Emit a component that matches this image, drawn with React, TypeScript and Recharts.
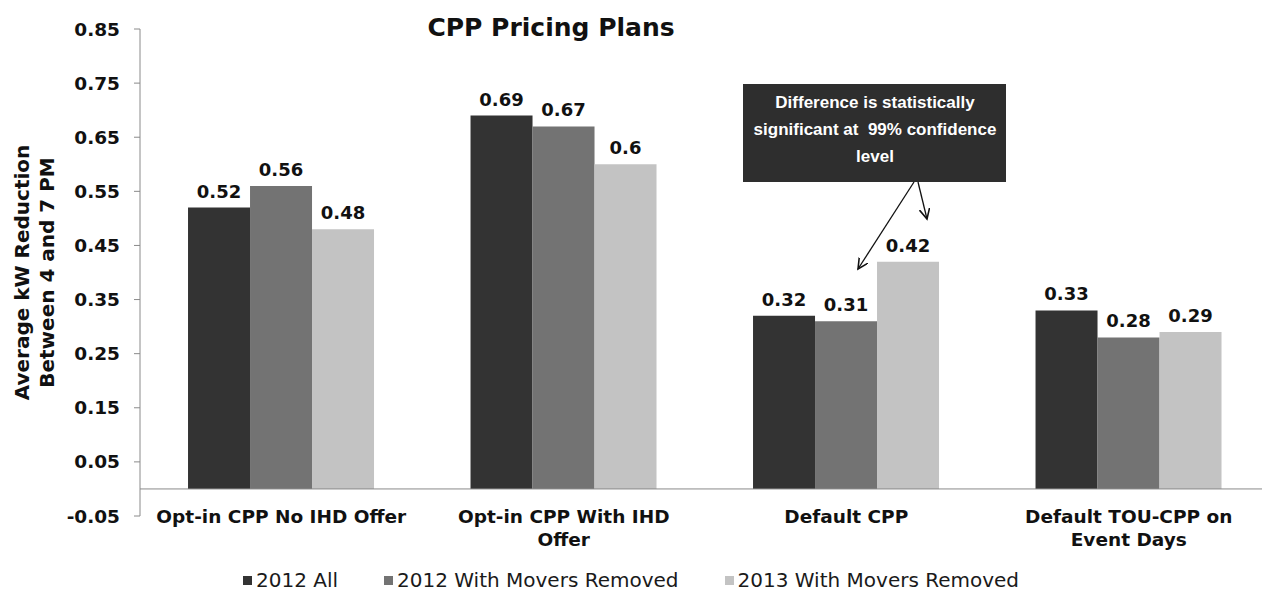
import React from 'react';
import {
  BarChart,
  Bar,
  XAxis,
  YAxis,
  Legend,
  LabelList,
  ReferenceLine,
  Customized,
} from 'recharts';

// 图表数据
const categories = [
  'Opt-in CPP No IHD Offer',
  'Opt-in CPP With IHD Offer',
  'Default CPP',
  'Default TOU-CPP on Event Days',
];
const categoryLines = [
  ['Opt-in CPP No IHD Offer'],
  ['Opt-in CPP With IHD', 'Offer'],
  ['Default CPP'],
  ['Default TOU-CPP on', 'Event Days'],
];
const all2012 = [0.52, 0.69, 0.32, 0.33];
const movers2012 = [0.56, 0.67, 0.31, 0.28];
const movers2013 = [0.48, 0.6, 0.42, 0.29];
const seriesNames = ['2012 All', '2012 With Movers Removed', '2013 With Movers Removed'];
const yTicks = [-0.05, 0.05, 0.15, 0.25, 0.35, 0.45, 0.55, 0.65, 0.75, 0.85];

const colors = ['#333333', '#737373', '#c3c3c3'];
const font = "'DejaVu Sans', 'Liberation Sans', Arial, sans-serif";
const arial = "'Liberation Sans', Arial, sans-serif";

const data = categories.map((name, i) => ({
  name,
  a: all2012[i],
  b: movers2012[i],
  c: movers2013[i],
}));

// 分类标签（多行）
const CategoryTick = ({ x, y, index }: any) => {
  const lines = categoryLines[index] || [];
  return (
    <text
      x={x}
      y={y + 7}
      textAnchor="middle"
      fontFamily={font}
      fontWeight="bold"
      fontSize={18.5}
      fill="#111"
    >
      {lines.map((l, i) => (
        <tspan key={i} x={x} dy={i === 0 ? 0 : 23}>
          {l}
        </tspan>
      ))}
    </text>
  );
};

// Y 轴标题（两行）
const YLabel = ({ viewBox }: any) => {
  const cy = viewBox.y + viewBox.height / 2;
  return (
    <g fontFamily={font} fontWeight="bold" fontSize={20} fill="#111">
      <text x={0} y={0} textAnchor="middle" transform={`translate(29, ${cy}) rotate(-90)`}>
        Average kW Reduction
      </text>
      <text x={0} y={0} textAnchor="middle" transform={`translate(54, ${cy}) rotate(-90)`}>
        Between 4 and 7 PM
      </text>
    </g>
  );
};

const renderLegend = (props: any) => {
  const { payload } = props;
  return (
    <div
      style={{
        display: 'flex',
        justifyContent: 'center',
        alignItems: 'center',
        height: 26,
        fontFamily: font,
        fontSize: 20,
        color: '#1a1a1a',
        paddingRight: 8,
      }}
    >
      {payload.map((entry: any, i: number) => (
        <span
          key={i}
          style={{
            display: 'inline-flex',
            alignItems: 'center',
            marginRight: i < payload.length - 1 ? 46 : 0,
          }}
        >
          <span
            style={{
              display: 'inline-block',
              width: 9,
              height: 9,
              background: entry.color,
              marginRight: 4,
            }}
          />
          {entry.value}
        </span>
      ))}
    </div>
  );
};

const Title = () => (
  <text
    x={551}
    y={36}
    textAnchor="middle"
    fontFamily={font}
    fontWeight="bold"
    fontSize={25}
    fill="#111"
  >
    CPP Pricing Plans
  </text>
);

// 注释框与箭头
const Annotation = () => (
  <g>
    <defs>
      <marker id="arrow" markerWidth="10" markerHeight="10" refX="8" refY="4" orient="auto">
        <path d="M0,0 L8,4 L0,8" fill="none" stroke="#111" strokeWidth={1.2} />
      </marker>
    </defs>
    <rect x={743} y={84} width={263} height={98} fill="#2e2e2e" />
    <g fontFamily={arial} fontWeight="bold" fontSize={17} fill="#fff" textAnchor="middle">
      <text x={875} y={108}>Difference is statistically</text>
      <text x={875} y={135}>{'significant at \u00a099% confidence'}</text>
      <text x={875} y={162}>level</text>
    </g>
    <line x1={914} y1={182} x2={858} y2={269} stroke="#111" strokeWidth={1.3} markerEnd="url(#arrow)" />
    <line x1={918} y1={182} x2={927} y2={219} stroke="#111" strokeWidth={1.3} markerEnd="url(#arrow)" />
  </g>
);

export default function App() {
  return (
    <div style={{ position: 'absolute', left: 0, top: 0, background: '#fff' }}>
      <BarChart
        width={1262}
        height={593}
        data={data}
        margin={{ top: 29, right: -8, left: 0, bottom: 0 }}
        barCategoryGap="17%"
        barGap={0}
      >
        <YAxis
          width={140}
          domain={[-0.05, 0.85]}
          ticks={yTicks}
          interval={0}
          tickFormatter={(v: number) => v.toFixed(2)}
          stroke="#8a8a8a"
          tickSize={6}
          tickMargin={14}
          tick={{ fontFamily: font, fontWeight: 'bold', fontSize: 18.5, fill: '#111' }}
          label={<YLabel />}
        />
        <XAxis
          dataKey="name"
          axisLine={false}
          tickLine={false}
          tickSize={0}
          tickMargin={0}
          interval={0}
          height={51}
          tick={<CategoryTick />}
        />
        <ReferenceLine y={0} stroke="#8a8a8a" strokeWidth={1} />
        <Legend verticalAlign="bottom" content={renderLegend} />
        <Bar dataKey="a" name={seriesNames[0]} fill={colors[0]} isAnimationActive={false}>
          <LabelList dataKey="a" position="top" offset={10} fontFamily={font} fontWeight="bold" fontSize={18} fill="#111" />
        </Bar>
        <Bar dataKey="b" name={seriesNames[1]} fill={colors[1]} isAnimationActive={false}>
          <LabelList dataKey="b" position="top" offset={10} fontFamily={font} fontWeight="bold" fontSize={18} fill="#111" />
        </Bar>
        <Bar dataKey="c" name={seriesNames[2]} fill={colors[2]} isAnimationActive={false}>
          <LabelList dataKey="c" position="top" offset={10} fontFamily={font} fontWeight="bold" fontSize={18} fill="#111" />
        </Bar>
        <Customized component={Title} />
        <Customized component={Annotation} />
      </BarChart>
    </div>
  );
}
